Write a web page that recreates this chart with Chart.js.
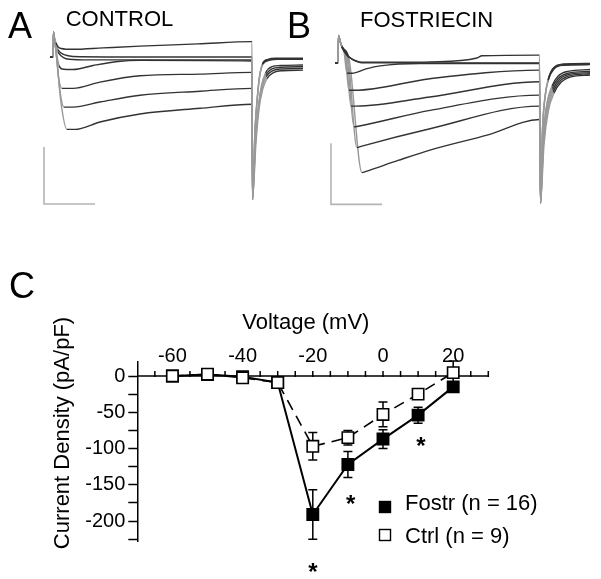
<!DOCTYPE html>
<html>
<head>
<meta charset="utf-8">
<script src="https://cdn.jsdelivr.net/npm/chart.js@4.4.1/dist/chart.umd.min.js"></script>
<style>
  html, body { margin: 0; padding: 0; background: #fff; overflow: hidden; }
  #wrap { position: relative; width: 601px; height: 579px; }
  canvas { position: absolute; }
</style>
</head>
<body>
<div id="wrap">
  <canvas id="ivChart" width="601" height="579" style="left:0;top:0"></canvas>
  <canvas id="ctrlTraces" width="320" height="228" style="left:3px;top:0"></canvas>
  <canvas id="fostTraces" width="320" height="244" style="left:280px;top:0"></canvas>
</div>
<script>
// ---- panel C data: I-V relation ----
const voltages   = [-60, -50, -40, -30, -20, -10, 0, 10, 20];      // mV
const fostrMean  = [0, 2, -1, -9, -191, -122, -87, -54, -15];       // pA/pF
const fostrSem   = [2, 3, 3, 3, 34, 18, 13, 11, 5];
const ctrlMean   = [0, 2.5, -2.5, -9, -97, -85, -53, -25, 4.6];
const ctrlSem    = [2, 2, 2, 3, 19, 10, 17, 4, 16];
const xTicks     = [-65, -60, -55, -50, -45, -40, -35, -30, -25, -20, -15, -10, -5, 0, 5, 10, 15, 20, 25, 30];
const xLabels    = [-60, -40, -20, 0, 20];
const yTicks     = [-225, -200, -175, -150, -125, -100, -75, -50, -25, 0];
const yLabels    = [-200, -150, -100, -50, 0];
const sigMarks   = [[-20, -263], [-9.2, -169], [10.8, -89]];        // asterisks (mV, pA/pF)

// ---- panels A / B: current sweeps, [time ms, current nA] ----
const controlSweeps = [
  [[-6,0],[0,0],[1,0.44],[3,0.34],[6,0.25],[10,0.18],[16,0.15],[40,0.135],[100,0.16],[174,0.19],[290,0.23],[398,0.27],[399,-2.5],[404,-1.3],[409,-0.7],[413,-0.36],[419,-0.13],[430,-0.05],[445,-0.03],[500,-0.03]],
  [[-6,0],[0,0],[1,0.44],[3,0.33],[6,0.22],[10,0.13],[16,0.07],[26,0.03],[40,0.01],[200,0],[398,0],[399,-2.5],[404,-1.28],[409,-0.68],[413,-0.34],[419,-0.12],[430,-0.04],[445,-0.02],[500,-0.02]],
  [[-6,0],[0,0],[1,0.44],[3,0.32],[6,0.2],[10,0.09],[16,0.02],[26,-0.03],[60,-0.05],[398,-0.05],[399,-2.48],[404,-1.26],[409,-0.66],[414,-0.3],[420,-0.12],[432,-0.06],[450,-0.04],[500,-0.04]],
  [[-6,0],[0,0],[1,0.44],[3,0.3],[6,0.12],[12,-0.15],[18,-0.21],[40,-0.22],[80,-0.15],[130,-0.08],[174,-0.06],[398,-0.07],[399,-2.5],[405,-1.45],[411,-0.85],[417,-0.5],[425,-0.28],[438,-0.17],[455,-0.15],[500,-0.14]],
  [[-6,0],[0,0],[1,0.44],[3,0.3],[6,0.1],[12,-0.4],[18,-0.55],[40,-0.55],[94,-0.44],[174,-0.33],[294,-0.3],[398,-0.27],[399,-2.5],[405,-1.48],[411,-0.88],[417,-0.53],[425,-0.32],[438,-0.21],[455,-0.18],[500,-0.17]],
  [[-6,0],[0,0],[1,0.44],[3,0.3],[6,0.1],[14,-0.6],[22,-0.88],[40,-0.88],[94,-0.79],[174,-0.67],[294,-0.6],[398,-0.55],[399,-2.5],[405,-1.5],[411,-0.9],[418,-0.55],[426,-0.35],[440,-0.24],[458,-0.21],[500,-0.2]],
  [[-6,0],[0,0],[1,0.44],[3,0.3],[6,0.1],[16,-0.8],[28,-1.27],[44,-1.27],[94,-1.14],[174,-1.0],[294,-0.9],[398,-0.83],[399,-2.5],[406,-1.5],[412,-0.92],[419,-0.58],[428,-0.38],[442,-0.27],[460,-0.24],[500,-0.23]]
];
const fostSweeps = [
  [[-6,0],[0,0],[1,0.45],[4,0.36],[8,0.27],[14,0.17],[20,0.11],[28,0.06],[36,0.03],[48,0.01],[120,0.01],[184,0.016],[278,0.08],[288,0.115],[403,0.126],[405,-2.3],[409,-1.1],[414,-0.56],[420,-0.28],[430,-0.09],[450,-0.02],[504,-0.01]],
  [[-6,0],[0,0],[1,0.45],[4,0.36],[8,0.27],[14,0.17],[20,0.11],[28,0.06],[36,0.03],[48,0],[403,0],[405,-2.3],[409,-1.12],[414,-0.58],[420,-0.3],[430,-0.1],[450,-0.03],[504,-0.02]],
  [[-6,0],[0,0],[1,0.45],[4,0.36],[8,0.25],[12,0.18],[18,-0.17],[28,-0.17],[56,-0.1],[84,-0.05],[164,-0.01],[403,-0.01],[405,-2.28],[409,-1.08],[414,-0.55],[421,-0.27],[432,-0.1],[452,-0.04],[504,-0.03]],
  [[-6,0],[0,0],[1,0.45],[4,0.36],[8,0.26],[14,0.15],[22,-0.45],[34,-0.45],[184,-0.26],[403,-0.12],[405,-2.3],[410,-1.25],[418,-0.66],[428,-0.38],[440,-0.22],[460,-0.14],[504,-0.11]],
  [[-6,0],[0,0],[1,0.45],[4,0.36],[8,0.26],[16,0.12],[26,-0.71],[36,-0.71],[184,-0.56],[403,-0.31],[405,-2.3],[410,-1.27],[418,-0.69],[428,-0.42],[440,-0.26],[460,-0.17],[504,-0.14]],
  [[-6,0],[0,0],[1,0.45],[4,0.36],[8,0.26],[18,0.1],[32,-1.05],[40,-1.04],[184,-0.78],[403,-0.53],[405,-2.3],[411,-1.3],[419,-0.72],[429,-0.45],[442,-0.28],[462,-0.19],[504,-0.16]],
  [[-6,0],[0,0],[1,0.45],[4,0.36],[8,0.26],[20,0.08],[38,-1.39],[46,-1.37],[184,-1.08],[403,-0.71],[405,-2.3],[411,-1.32],[420,-0.75],[430,-0.48],[444,-0.3],[464,-0.21],[504,-0.18]],
  [[-6,0],[0,0],[1,0.45],[4,0.36],[8,0.26],[22,0.07],[48,-1.8],[56,-1.78],[120,-1.6],[184,-1.43],[300,-1.18],[403,-0.93],[405,-2.3],[412,-1.34],[421,-0.78],[432,-0.5],[446,-0.32],[466,-0.23],[504,-0.2]]
];
// scale bars: 1 nA / 100 ms
const scaleBarA = [[-18,-1.58],[-18,-2.58],[84,-2.58]];
const scaleBarB = [[-14,-1.32],[-14,-2.32],[88,-2.32]];

const FONT = "'Liberation Sans', Arial, sans-serif";
Chart.defaults.font.family = FONT;
Chart.defaults.color = '#000';

// text drawn on a canvas (panel letters, headings)
const panelText = {
  id: 'panelText',
  afterDraw(chart, args, opts) {
    const ctx = chart.ctx;
    (opts.items || []).forEach(it => {
      ctx.save();
      ctx.font = it.font;
      ctx.fillStyle = '#000';
      ctx.textBaseline = 'alphabetic';
      ctx.fillText(it.text, it.x, it.y);
      ctx.restore();
    });
  }
};

const steep = c => {
  const dx = c.p1.parsed.x - c.p0.parsed.x;
  const dy = c.p1.parsed.y - c.p0.parsed.y;
  return dx <= 0 || Math.abs(dy / dx) > 0.02;
};

function traceChart(id, sweeps, bar, xr, yr, labels) {
  const datasets = sweeps.map(s => ({
    data: s.map(p => ({ x: p[0], y: p[1] })),
    showLine: true,
    borderColor: '#333',
    borderWidth: 1.4,
    pointRadius: 0,
    cubicInterpolationMode: 'monotone',
    segment: { borderColor: c => steep(c) ? '#999' : undefined }
  }));
  datasets.push({
    data: bar.map(p => ({ x: p[0], y: p[1] })),
    showLine: true,
    borderColor: '#b4b4b4',
    borderWidth: 1.6,
    pointRadius: 0,
    tension: 0
  });
  return new Chart(document.getElementById(id), {
    type: 'scatter',
    data: { datasets },
    options: {
      responsive: false,
      animation: false,
      layout: { padding: 0 },
      plugins: { legend: { display: false }, tooltip: { enabled: false }, panelText: { items: labels } },
      scales: {
        x: { type: 'linear', display: false, min: xr[0], max: xr[1] },
        y: { type: 'linear', display: false, min: yr[0], max: yr[1] }
      }
    },
    plugins: [panelText]
  });
}

traceChart('ctrlTraces', controlSweeps, scaleBarA, [-100, 540], [-3, 1], [
  { text: 'A', x: 5, y: 38, font: '36px ' + FONT },
  { text: 'CONTROL', x: 62.7, y: 26, font: '22px ' + FONT }
]);
traceChart('fostTraces', fostSweeps, scaleBarB, [-116, 524], [-2.97, 1.03], [
  { text: 'B', x: 7, y: 38, font: '36px ' + FONT },
  { text: 'FOSTRIECIN', x: 80, y: 26.7, font: '22px ' + FONT }
]);

// ---- panel C ----
const ivDecor = {
  id: 'ivDecor',
  beforeDatasetsDraw(chart) {
    const { ctx, chartArea, scales: { x, y } } = chart;
    const y0 = y.getPixelForValue(0);
    ctx.save();
    ctx.strokeStyle = '#000';
    ctx.lineWidth = 1.5;
    ctx.beginPath();
    ctx.moveTo(chartArea.left, y0);
    ctx.lineTo(chartArea.right, y0);
    xTicks.forEach(v => {
      const px = x.getPixelForValue(v);
      ctx.moveTo(px, y0 - 5);
      ctx.lineTo(px, y0 + 1);
    });
    ctx.stroke();
    // error bars
    chart.data.datasets.forEach(ds => {
      ds.data.forEach((p, i) => {
        const e = ds.errorBars[i];
        const px = x.getPixelForValue(p.x);
        const top = y.getPixelForValue(p.y + e);
        const bot = y.getPixelForValue(p.y - e);
        ctx.beginPath();
        ctx.moveTo(px, top); ctx.lineTo(px, bot);
        ctx.moveTo(px - 4.5, top); ctx.lineTo(px + 4.5, top);
        ctx.moveTo(px - 4.5, bot); ctx.lineTo(px + 4.5, bot);
        ctx.stroke();
      });
    });
    ctx.restore();
  },
  afterDraw(chart) {
    const { ctx, chartArea, scales: { x, y } } = chart;
    const y0 = y.getPixelForValue(0);
    ctx.save();
    ctx.fillStyle = '#000';
    ctx.textBaseline = 'alphabetic';
    // x tick labels above the axis
    ctx.font = '20px ' + FONT;
    ctx.textAlign = 'center';
    xLabels.forEach(v => ctx.fillText(String(v), x.getPixelForValue(v), y0 - 14));
    // axis titles
    ctx.font = '22px ' + FONT;
    ctx.fillText('Voltage (mV)', (chartArea.left + chartArea.right) / 2 - 7, y0 - 47.5);
    ctx.save();
    ctx.translate(69, 433);
    ctx.rotate(-Math.PI / 2);
    ctx.fillText('Current Density (pA/pF)', 0, 0);
    ctx.restore();
    // panel letter
    ctx.textAlign = 'left';
    ctx.font = '36px ' + FONT;
    ctx.fillText('C', 9, 298);
    // significance marks
    ctx.textAlign = 'center';
    ctx.font = 'bold 24px ' + FONT;
    sigMarks.forEach(m => ctx.fillText('*', x.getPixelForValue(m[0]), y.getPixelForValue(m[1]) + 13.7));
    // legend
    ctx.textAlign = 'left';
    ctx.font = '22px ' + FONT;
    const order = [1, 0];
    order.forEach((di, k) => {
      const ds = chart.data.datasets[di];
      const cy = 507 + k * 28;
      const base = 510 + k * 33;
      ctx.fillStyle = ds.pointBackgroundColor;
      ctx.fillRect(379.5, cy - 5.5, 11, 11);
      ctx.strokeStyle = '#000';
      ctx.lineWidth = 1.4;
      ctx.strokeRect(379.5, cy - 5.5, 11, 11);
      ctx.fillStyle = '#000';
      ctx.fillText(ds.label, 405, base);
    });
    ctx.restore();
  }
};

new Chart(document.getElementById('ivChart'), {
  type: 'scatter',
  data: {
    datasets: [
      {
        label: 'Ctrl (n = 9)',
        data: voltages.map((v, i) => ({ x: v, y: ctrlMean[i] })),
        errorBars: ctrlSem,
        showLine: true,
        tension: 0,
        borderColor: '#000',
        borderWidth: 1.6,
        borderDash: [11, 7],
        pointStyle: 'rect',
        pointRadius: 8,
        pointBackgroundColor: '#fff',
        pointBorderColor: '#000',
        pointBorderWidth: 1.6,
        clip: false,
        order: 0
      },
      {
        label: 'Fostr (n = 16)',
        data: voltages.map((v, i) => ({ x: v, y: fostrMean[i] })),
        errorBars: fostrSem,
        showLine: true,
        tension: 0,
        borderColor: '#000',
        borderWidth: 2,
        pointStyle: 'rect',
        pointRadius: 8,
        pointBackgroundColor: '#000',
        pointBorderColor: '#000',
        pointBorderWidth: 1.6,
        clip: false,
        order: 1
      }
    ]
  },
  options: {
    responsive: false,
    animation: false,
    layout: { padding: { left: 0, top: 361.5, right: 112.7, bottom: 37.7 } },
    plugins: { legend: { display: false }, tooltip: { enabled: false } },
    scales: {
      x: { type: 'linear', display: false, min: -70, max: 30 },
      y: {
        type: 'linear', position: 'left', min: -228, max: 20,
        afterFit: s => { s.width = 137.3; },
        afterBuildTicks: s => { s.ticks = yTicks.map(v => ({ value: v })); },
        ticks: {
          autoSkip: false, padding: 3, color: '#000', font: { size: 20 },
          callback: v => yLabels.includes(v) ? String(v) : ''
        },
        grid: { drawOnChartArea: false, drawTicks: true, tickLength: 9, tickWidth: 1.5, tickColor: '#000' },
        border: { display: true, color: '#000', width: 1.5 }
      }
    }
  },
  plugins: [ivDecor]
});
</script>
</body>
</html>
